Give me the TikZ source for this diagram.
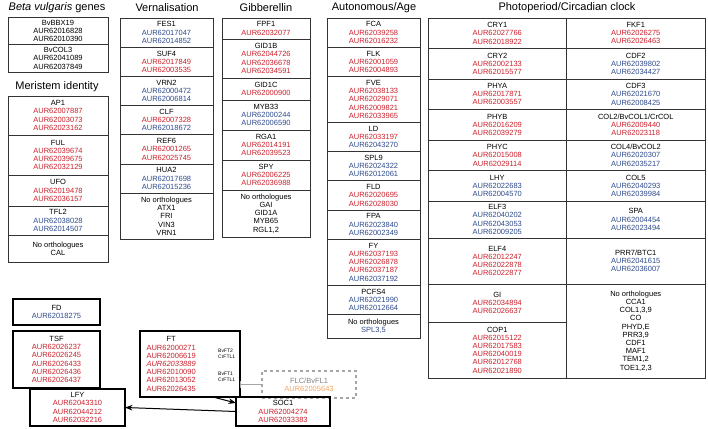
\documentclass[tikz,border=0pt]{standalone}
\usepackage{fontspec}
\setmainfont{Liberation Sans}
\usetikzlibrary{positioning,arrows.meta}

\definecolor{aurred}{RGB}{204,32,44}
\definecolor{aurblue}{RGB}{46,74,140}
\definecolor{flcgrey}{RGB}{165,165,165}
\definecolor{flcorange}{RGB}{242,166,100}
\newcommand{\rd}[1]{\textcolor{aurred}{#1}}
\newcommand{\bl}[1]{\textcolor{aurblue}{#1}}
\newcommand{\genefont}{\fontsize{7.5}{8.2}\selectfont}
\newcommand{\titlefont}{\fontsize{11}{13}\selectfont}

\begin{document}
\begin{tikzpicture}[x=1pt, y=-1pt, >=Stealth,
    cell/.style={draw=black!80, line width=0.8pt, minimum height=#1, minimum width=93pt,
      inner sep=1pt, outer sep=0pt, align=center, font=\genefont},
    cell/.default=29.2pt,
    key/.style={cell=#1, draw=black, line width=1.8pt},
    key/.default=30pt,
    wide/.style={minimum width=100pt},
    pcol/.style={minimum width=138.5pt},
    title/.style={font=\titlefont, inner sep=0pt},
    tiny/.style={font=\fontsize{5}{5.5}\selectfont, align=left, inner sep=0pt, anchor=west}]
    \useasboundingbox (0,0) rectangle (708,428);

    % Beta vulgaris genes / meristem identity
    \node[title] (bvtitle) at (57,8) {\textit{Beta vulgaris} genes};
    \node[cell=27.5pt, wide, anchor=north] (bbx19) at (58,17) {BvBBX19\\AUR62016828\\AUR62010390};
    \node[cell=27.5pt, wide, below=0pt of bbx19] (bvcol3) {BvCOL3\\AUR62041089\\AUR62037849};
    \node[title] (mertitle) at (57,87) {Meristem identity};
    \node[cell=39pt, wide, anchor=north] (ap1) at (58,96) {AP1\\\rd{AUR62007887}\\\rd{AUR62003073}\\\rd{AUR62023162}};
    \node[cell=40pt, wide, below=0pt of ap1] (ful) {FUL\\\rd{AUR62039674}\\\rd{AUR62039675}\\\rd{AUR62032129}};
    \node[cell=31pt, wide, below=0pt of ful] (ufo) {UFO\\\rd{AUR62019478}\\\rd{AUR62036157}};
    \node[cell=29pt, wide, below=0pt of ufo] (tfl2) {TFL2\\\bl{AUR62038028}\\\bl{AUR62014507}};
    \node[cell=27pt, wide, below=0pt of tfl2] (calno) {No orthologues\\CAL};

    % Vernalisation
    \node[title] (verntitle) at (167,8) {Vernalisation};
    \node[cell, anchor=north] (fes1) at (166.5,18) {FES1\\\bl{AUR62017047}\\\bl{AUR62014852}};
    \node[cell, below=0pt of fes1] (suf4) {SUF4\\\rd{AUR62017849}\\\rd{AUR62003535}};
    \node[cell, below=0pt of suf4] (vrn2) {VRN2\\\bl{AUR62000472}\\\bl{AUR62006814}};
    \node[cell, below=0pt of vrn2] (clf) {CLF\\\rd{AUR62007328}\\\bl{AUR62018672}};
    \node[cell, below=0pt of clf] (ref6) {REF6\\\rd{AUR62001265}\\\rd{AUR62025745}};
    \node[cell, below=0pt of ref6] (hua2) {HUA2\\\bl{AUR62017698}\\\bl{AUR62015236}};
    \node[cell=46pt, below=0pt of hua2] (vernno) {No orthologues\\ATX1\\FRI\\VIN3\\VRN1};

    % Gibberellin
    \node[title] (gatitle) at (266,8) {Gibberellin};
    \node[cell=21pt, minimum width=88pt, anchor=north] (fpf1) at (266,18) {FPF1\\\rd{AUR62032077}};
    \node[cell=39pt, minimum width=88pt, below=0pt of fpf1] (gid1b) {GID1B\\\rd{AUR62044726}\\\rd{AUR62036678}\\\rd{AUR62034591}};
    \node[cell=22pt, minimum width=88pt, below=0pt of gid1b] (gid1c) {GID1C\\\rd{AUR62000900}};
    \node[cell=30pt, minimum width=88pt, below=0pt of gid1c] (myb33) {MYB33\\\bl{AUR62000244}\\\bl{AUR62006590}};
    \node[cell=30pt, minimum width=88pt, below=0pt of myb33] (rga1) {RGA1\\\rd{AUR62014191}\\\rd{AUR62039523}};
    \node[cell=30pt, minimum width=88pt, below=0pt of rga1] (spy) {SPY\\\rd{AUR62006225}\\\rd{AUR62036988}};
    \node[cell=47pt, minimum width=88pt, below=0pt of spy] (gano) {No orthologues\\GAI\\GID1A\\MYB65\\RGL1,2};

    % Autonomous/Age
    \node[title] (autotitle) at (374,8) {Autonomous/Age};
    \node[cell, anchor=north] (fca) at (373.5,18) {FCA\\\rd{AUR62039258}\\\rd{AUR62016232}};
    \node[cell, below=0pt of fca] (flk) {FLK\\\rd{AUR62001059}\\\rd{AUR62004893}};
    \node[cell=46pt, below=0pt of flk] (fve) {FVE\\\rd{AUR62038133}\\\rd{AUR62029071}\\\rd{AUR62009821}\\\rd{AUR62033965}};
    \node[cell, below=0pt of fve] (ld) {LD\\\rd{AUR62033197}\\\bl{AUR62043270}};
    \node[cell, below=0pt of ld] (spl9) {SPL9\\\bl{AUR62024322}\\\bl{AUR62012061}};
    \node[cell, below=0pt of spl9] (fld) {FLD\\\rd{AUR62020695}\\\rd{AUR62028030}};
    \node[cell, below=0pt of fld] (fpa) {FPA\\\bl{AUR62023840}\\\bl{AUR62002349}};
    \node[cell=46pt, below=0pt of fpa] (fy) {FY\\\rd{AUR62037193}\\\rd{AUR62026878}\\\rd{AUR62037187}\\\bl{AUR62037192}};
    \node[cell, below=0pt of fy] (pcfs4) {PCFS4\\\bl{AUR62021990}\\\bl{AUR62012664}};
    \node[cell=24pt, below=0pt of pcfs4] (autono) {No orthologues\\\bl{SPL3,5}};

    % Photoperiod/Circadian clock
    \node[title] (phototitle) at (567,8) {Photoperiod/Circadian clock};
    \node[cell=30.5pt, pcol, anchor=north] (cry1) at (497.25,18) {CRY1\\\rd{AUR62027766}\\\rd{AUR62018922}};
    \node[cell=30.5pt, pcol, below=0pt of cry1] (cry2) {CRY2\\\rd{AUR62002133}\\\rd{AUR62015577}};
    \node[cell=30.5pt, pcol, below=0pt of cry2] (phya) {PHYA\\\rd{AUR62017871}\\\rd{AUR62003557}};
    \node[cell=30.5pt, pcol, below=0pt of phya] (phyb) {PHYB\\\rd{AUR62016209}\\\rd{AUR62039279}};
    \node[cell=30.5pt, pcol, below=0pt of phyb] (phyc) {PHYC\\\rd{AUR62015008}\\\rd{AUR62029114}};
    \node[cell=30.5pt, pcol, below=0pt of phyc] (lhy) {LHY\\\bl{AUR62022683}\\\bl{AUR62004570}};
    \node[cell=37pt, pcol, below=0pt of lhy] (elf3) {ELF3\\\bl{AUR62040202}\\\bl{AUR62043053}\\\bl{AUR62009205}};
    \node[cell=46pt, pcol, below=0pt of elf3] (elf4) {ELF4\\\rd{AUR62012247}\\\rd{AUR62022878}\\\rd{AUR62022877}};
    \node[cell=38pt, pcol, below=0pt of elf4] (gi) {GI\\\rd{AUR62034894}\\\rd{AUR62026637}};
    \node[cell=56pt, pcol, below=0pt of gi] (cop1) {COP1\\\rd{AUR62015122}\\\rd{AUR62017583}\\\rd{AUR62040019}\\\rd{AUR62012768}\\\rd{AUR62021890}};
    \node[cell=30.5pt, pcol, anchor=north] (fkf1) at (635.75,18) {FKF1\\\rd{AUR62026275}\\\rd{AUR62026463}};
    \node[cell=30.5pt, pcol, below=0pt of fkf1] (cdf2) {CDF2\\\bl{AUR62039802}\\\bl{AUR62034427}};
    \node[cell=30.5pt, pcol, below=0pt of cdf2] (cdf3) {CDF3\\\bl{AUR62021670}\\\bl{AUR62008425}};
    \node[cell=30.5pt, pcol, below=0pt of cdf3] (col2) {COL2/BvCOL1/CrCOL\\\rd{AUR62009440}\\\rd{AUR62023118}};
    \node[cell=30.5pt, pcol, below=0pt of col2] (col4) {COL4/BvCOL2\\\bl{AUR62020307}\\\bl{AUR62035217}};
    \node[cell=30.5pt, pcol, below=0pt of col4] (col5) {COL5\\\bl{AUR62040293}\\\bl{AUR62039984}};
    \node[cell=37pt, pcol, below=0pt of col5] (spa) {SPA\\\bl{AUR62004454}\\\bl{AUR62023494}};
    \node[cell=46pt, pcol, below=0pt of spa] (prr7) {PRR7/BTC1\\\bl{AUR62041615}\\\bl{AUR62036007}};
    \node[cell=94pt, pcol, below=0pt of prr7] (photono) {No orthologues\\CCA1\\COL1,3,9\\CO\\PHYD,E\\PRR3,9\\CDF1\\MAF1\\TEM1,2\\TOE1,2,3};

    % integrators
    \node[key=26pt, minimum width=87pt, anchor=north west] (fd) at (13,299) {FD\\\bl{AUR62018275}};
    \node[key=57pt, minimum width=87pt, below=6pt of fd] (tsf) {TSF\\\rd{AUR62026237}\\\rd{AUR62026245}\\\rd{AUR62026433}\\\rd{AUR62026436}\\\rd{AUR62026437}};
    \node[key=66pt, minimum width=100pt, anchor=north west] (ft) at (140,331) {};
    \node[font=\genefont, align=center, anchor=west] (ftgenes) at ([xshift=3pt]ft.west) {FT\\\rd{AUR62000271}\\\rd{AUR62006619}\\\rd{\itshape AUR62033889}\\\rd{AUR62010090}\\\rd{AUR62013052}\\\rd{AUR62026435}};
    \node[tiny] (ftlabb) at ([xshift=-22pt, yshift=10pt]ft.east) {BvFT2\\CrFTL1};
    \node[tiny] (ftlaba) at ([xshift=-22pt, yshift=-13pt]ft.east) {BvFT1\\CrFTL1};
    \node[cell=27pt, draw=flcgrey, dashed, line width=1.2pt, minimum width=94pt, anchor=north west] (flc) at (262,371) {\textcolor{flcgrey!80!black}{FLC/BvFL1}\\\textcolor{flcorange}{AUR62005643}};
    \node[key=29pt, minimum width=94pt, anchor=north west] (soc1) at (236,397) {SOC1\\\rd{AUR62004274}\\\rd{AUR62033383}};
    \node[key=37pt, minimum width=95pt, anchor=north west] (lfy) at (30,389) {LFY\\\rd{AUR62043310}\\\rd{AUR62044212}\\\rd{AUR62032216}};

    \draw[->, line width=1pt] ([xshift=-27pt]ft.south east) -- ([yshift=-6pt]soc1.north west);
    \draw[->, line width=1pt] (soc1.west) -- (lfy.east);
    \draw[-{Bar[width=7pt]}, flcgrey, line width=1pt] (flc.west) -- (ft.east |- flc.west);
\end{tikzpicture}
\end{document}
